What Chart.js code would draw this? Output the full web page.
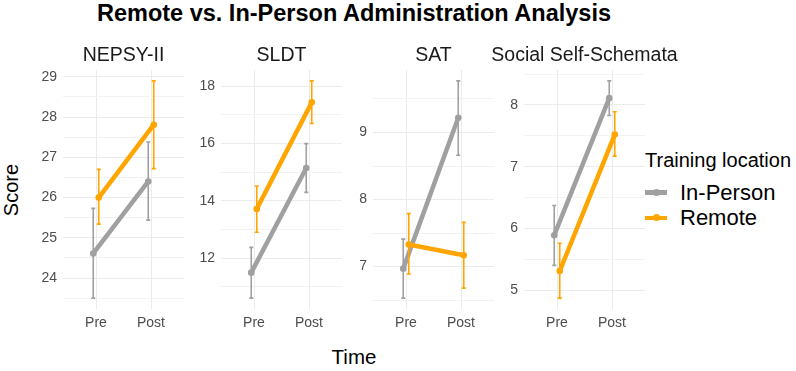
<!DOCTYPE html>
<html>
<head>
<meta charset="utf-8">
<script src="https://cdn.jsdelivr.net/npm/chart.js@4/dist/chart.umd.min.js"></script>
<style>
  body { margin: 0; background: #fff; font-family: "Liberation Sans", Arial, sans-serif; }
  #wrap { position: relative; width: 796px; height: 371px; overflow: hidden; }
  canvas { position: absolute; }
  .txt { position: absolute; white-space: nowrap; line-height: 1; }
  .key { position: absolute; width: 22px; height: 4.5px; }
  .dot { position: absolute; width: 7px; height: 7px; border-radius: 50%; left: 7.5px; top: -1.25px; }
</style>
</head>
<body>
<div id="wrap">
  <div class="txt" id="title" style="font-weight:bold;font-size:23.5px;left:354px;top:2px;transform:translateX(-50%);color:#000">Remote vs. In-Person Administration Analysis</div>
  <div class="txt" style="font-size:20px;left:11px;top:189.5px;transform:translate(-50%,-50%) rotate(-90deg);color:#000">Score</div>
  <div class="txt" style="font-size:20.5px;left:354px;top:347px;transform:translateX(-50%);color:#000">Time</div>
  <div class="txt" style="font-size:20px;left:645px;top:150px;color:#000">Training location</div>
  <div class="key" style="left:645px;top:190px;background:#A0A0A0"><div class="dot" style="background:#A0A0A0"></div></div>
  <div class="txt" style="font-size:22px;left:680px;top:182px;color:#000">In-Person</div>
  <div class="key" style="left:645px;top:215.5px;background:#FFA500"><div class="dot" style="background:#FFA500"></div></div>
  <div class="txt" style="font-size:22px;left:680px;top:207px;color:#000">Remote</div>
</div>
<script>
// facets and categories
const panelNames = ['NEPSY-II', 'SLDT', 'SAT', 'Social Self-Schemata'];
const categories = ['Pre', 'Post'];

// In-Person: means and error bar ends, one pair [Pre, Post] per panel
const inPersonMean = [[24.61, 26.40], [11.50, 15.15], [6.97, 9.22], [5.89, 8.11]];
const inPersonLow  = [[23.50, 25.44], [10.61, 14.30], [6.53, 8.66], [5.40, 7.83]];
const inPersonHigh = [[25.73, 27.38], [12.38, 16.00], [7.41, 9.77], [6.37, 8.39]];

// Remote
const remoteMean = [[26.00, 27.81], [13.72, 17.44], [7.33, 7.17], [5.31, 7.52]];
const remoteLow  = [[25.34, 26.72], [12.91, 16.70], [6.89, 6.68], [4.87, 7.17]];
const remoteHigh = [[26.70, 28.90], [14.52, 18.19], [7.79, 7.66], [5.76, 7.89]];

// y tick labels per panel
const yTicks = [[24, 25, 26, 27, 28, 29], [12, 14, 16, 18], [7, 8, 9], [5, 6, 7, 8]];

const GREY = '#A0A0A0';
const ORANGE = '#FFA500';
const FONT = '"Liberation Sans", Arial, sans-serif';

const panelLeft = [63, 221, 373, 524];
const panelWidth = 121;
const axisW = 40;
const padL = 30, padR = 45, padTop = 27;

const errorBars = {
  id: 'errorBars',
  afterDatasetsDraw(chart) {
    const ctx = chart.ctx;
    const y = chart.scales.y;
    chart.data.datasets.forEach((ds, di) => {
      const meta = chart.getDatasetMeta(di);
      ctx.save();
      ctx.strokeStyle = ds.borderColor;
      ctx.lineWidth = 1.6;
      meta.data.forEach((pt, i) => {
        const top = y.getPixelForValue(ds.errHigh[i]);
        const bot = y.getPixelForValue(ds.errLow[i]);
        ctx.beginPath();
        ctx.moveTo(pt.x, top); ctx.lineTo(pt.x, bot);
        ctx.moveTo(pt.x - 2, top); ctx.lineTo(pt.x + 2, top);
        ctx.moveTo(pt.x - 2, bot); ctx.lineTo(pt.x + 2, bot);
        ctx.stroke();
      });
      ctx.restore();
    });
  }
};

// facet strip label, centred over the panel
const stripLabel = {
  id: 'stripLabel',
  afterDraw(chart, args, opts) {
    const ctx = chart.ctx;
    const a = chart.chartArea;
    ctx.save();
    ctx.fillStyle = '#1a1a1a';
    ctx.font = '19.5px ' + FONT;
    ctx.textAlign = 'center';
    ctx.textBaseline = 'middle';
    ctx.fillText(opts.text, (a.left + a.right) / 2, a.top - 14.5);
    ctx.restore();
  }
};

function series(label, color, mean, low, high, dodge, order) {
  return {
    label,
    data: mean.map((v, i) => ({ x: i + 1 + dodge, y: v })),
    errLow: low,
    errHigh: high,
    borderColor: color,
    backgroundColor: color,
    borderWidth: 4.5,
    pointRadius: 3.3,
    pointBorderWidth: 0,
    order
  };
}

panelNames.forEach((name, p) => {
  const cv = document.createElement('canvas');
  cv.width = padL + axisW + panelWidth + padR;
  cv.height = 296;
  cv.style.left = (panelLeft[p] - axisW - padL) + 'px';
  cv.style.top = '43px';
  document.getElementById('wrap').appendChild(cv);

  const all = inPersonLow[p].concat(inPersonHigh[p], remoteLow[p], remoteHigh[p]);
  const lo = Math.min(...all), hi = Math.max(...all);
  const pad = (hi - lo) * 0.05;
  const majors = yTicks[p];
  const step = majors[1] - majors[0];

  new Chart(cv, {
    type: 'line',
    data: {
      datasets: [
        series('In-Person', GREY, inPersonMean[p], inPersonLow[p], inPersonHigh[p], -0.05, 2),
        series('Remote', ORANGE, remoteMean[p], remoteLow[p], remoteHigh[p], 0.05, 1)
      ]
    },
    options: {
      responsive: false,
      animation: false,
      devicePixelRatio: 1,
      layout: { padding: { left: padL, right: padR, top: padTop, bottom: 0 } },
      plugins: {
        legend: { display: false },
        tooltip: { enabled: false },
        title: { display: false },
        stripLabel: { text: name }
      },
      scales: {
        x: {
          type: 'linear',
          min: 0.4,
          max: 2.6,
          afterBuildTicks: s => { s.ticks = categories.map((c, i) => ({ value: i + 1 })); },
          afterFit: s => { s.height = 30; },
          grid: { color: '#EBEBEB', lineWidth: 1, drawTicks: false },
          border: { display: false },
          ticks: {
            autoSkip: false, maxRotation: 0, padding: 6, color: '#4D4D4D',
            font: { family: FONT, size: 14 },
            callback: v => categories[v - 1]
          }
        },
        y: {
          min: lo - pad,
          max: hi + pad,
          afterBuildTicks: s => {
            const t = [];
            for (let v = majors[0] - step * 2; v <= s.max + 1e-9; v += step / 2) {
              if (v >= s.min - 1e-9) t.push({ value: +v.toFixed(4) });
            }
            s.ticks = t;
          },
          afterFit: s => { s.width = axisW; },
          grid: {
            drawTicks: false,
            color: c => majors.includes(c.tick.value) ? '#EBEBEB' : '#F2F2F2',
            lineWidth: 1
          },
          border: { display: false },
          ticks: {
            padding: 6, color: '#4D4D4D',
            font: { family: FONT, size: 14 },
            callback: v => majors.includes(v) ? String(v) : ''
          }
        }
      }
    },
    plugins: [errorBars, stripLabel]
  });
});
</script>
</body>
</html>
